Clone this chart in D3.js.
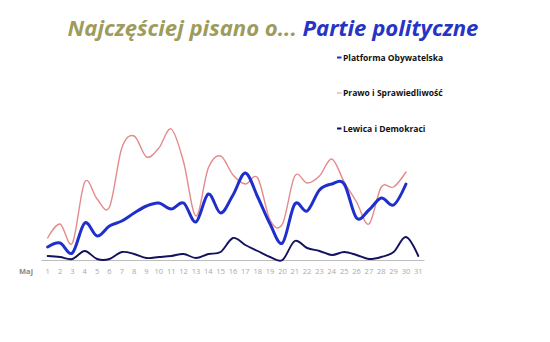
<!DOCTYPE html>
<html>
<head>
<meta charset="utf-8">
<script src="https://cdn.jsdelivr.net/npm/d3@7"></script>
<style>
  body { margin: 0; background: #fff; }
  svg { display: block; }
</style>
</head>
<body>
<script>
var width = 550,
    height = 342;

// dni maja
var days = d3.range(1, 32);
var seriesNames = ["Platforma Obywatelska", "Prawo i Sprawiedliwość", "Lewica i Demokraci"];
var po  = [13,17,7,37,24,34,39,47,54,57,51,57,38,66,47,65,87,63,36,17,56,49,70,76,76,42,50,62,55,76,null];
var pis = [22,36,17,78,61,53,112,124,103,112,131,98,44,92,104,85,76,82,40,36,84,77,84,101,78,58,36,73,73,88,null];
var lid = [4,3,1,9,1,1,8,6,2,3,4,6,2,6,8,22,15,9,3,0,19,12,9,5,8,5,1,3,8,23,4];
var colors = ["#1f2fcc", "#e58a8a", "#12125e"];
var widths = [3, 1.4, 1.9];

var svg = d3.select("body").append("svg")
    .attr("width", width)
    .attr("height", height);

// tytul
var title = svg.append("text")
    .attr("x", 273)
    .attr("y", 36)
    .attr("text-anchor", "middle")
    .attr("font-family", "Open Sans")
    .attr("font-weight", "bold")
    .attr("font-style", "italic")
    .attr("font-size", 22);
title.append("tspan").attr("fill", "#9d9c5d").text("Najczęściej pisano o... ");
title.append("tspan").attr("fill", "#2633c6").text("Partie polityczne");
var tw = title.node().getComputedTextLength();
title.attr("font-size", 22 * 411 / tw);

var x = d3.scalePoint()
    .domain(days)
    .range([41.5, 424.5])
    .padding(0.5);

var y = d3.scaleLinear()
    .domain([0, 140])
    .range([260, 120]);

// os X
svg.append("line")
    .attr("x1", 41.5).attr("x2", 424.5)
    .attr("y1", 260.5).attr("y2", 260.5)
    .attr("stroke", "#bdbdbd")
    .attr("stroke-width", 1);

svg.append("g")
  .selectAll("text")
  .data(days)
  .enter().append("text")
    .attr("x", function (d) { return x(d) })
    .attr("y", 274)
    .attr("text-anchor", "middle")
    .attr("font-family", "Open Sans")
    .attr("font-size", 7.5)
    .attr("fill", "#a8a8a8")
    .text(function (d) { return d });

svg.append("text")
    .attr("x", 26)
    .attr("y", 274)
    .attr("text-anchor", "middle")
    .attr("font-family", "Open Sans")
    .attr("font-weight", "bold")
    .attr("font-size", 7.5)
    .attr("fill", "#8a8a8a")
    .text("Maj");

var line = d3.line()
    .defined(function (v) { return v != null })
    .x(function (v, i) { return x(days[i]) })
    .y(function (v) { return y(v) })
    .curve(d3.curveCatmullRom.alpha(0));

// kolejnosc rysowania: PiS, PO, LiD
[[1, pis], [0, po], [2, lid]].forEach(function (s) {
  svg.append("path")
    .attr("d", line(s[1]))
    .attr("fill", "none")
    .attr("stroke", colors[s[0]])
    .attr("stroke-width", widths[s[0]])
    .attr("stroke-linejoin", "round")
    .attr("stroke-linecap", "round");
});

// legenda
var legend = svg.append("g")
  .selectAll("g")
  .data(seriesNames)
  .enter().append("g")
    .attr("transform", function (d, i) { return "translate(337," + (60.5 + i * 35.5) + ")" });

legend.append("line")
    .attr("x1", 0).attr("x2", 4.5)
    .attr("y1", -3).attr("y2", -3)
    .attr("stroke", function (d, i) { return colors[i] })
    .attr("stroke-width", function (d, i) { return i === 1 ? 1 : 2 });

legend.append("text")
    .attr("x", 6)
    .attr("font-family", "Open Sans")
    .attr("font-weight", "bold")
    .attr("font-size", 8.5)
    .attr("fill", "#111")
    .text(function (d) { return d });
</script>
</body>
</html>
